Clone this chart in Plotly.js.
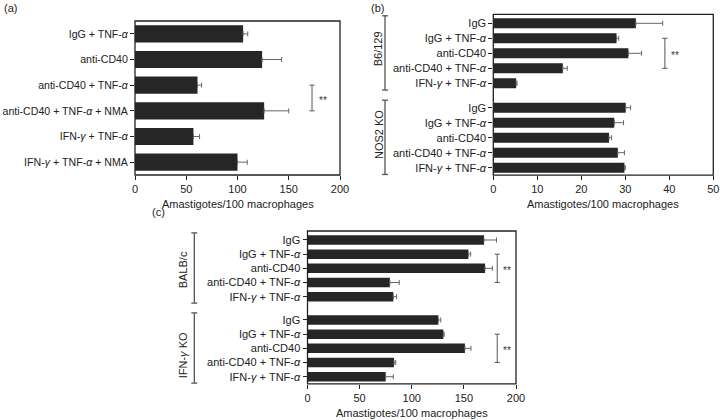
<!DOCTYPE html>
<html><head><meta charset="utf-8">
<script src="https://cdn.plot.ly/plotly-3.0.1.min.js"></script>
<style>html,body{margin:0;padding:0;background:#fff}#chart{width:720px;height:420px}</style>
</head><body><div id="chart"></div><script>
// ---- data ----
const catsA = ['IgG + TNF-<i>α</i>', 'anti-CD40', 'anti-CD40 + TNF-<i>α</i>', 'anti-CD40 + TNF-<i>α</i> + NMA', 'IFN-<i>γ</i> + TNF-<i>α</i>', 'IFN-<i>γ</i> + TNF-<i>α</i> + NMA'];
const valsA = [105.5, 124, 61, 126, 57, 100];
const errA  = [4.5, 19, 4, 24, 6, 9.5];

const catsBC = ['IgG', 'IgG + TNF-<i>α</i>', 'anti-CD40', 'anti-CD40 + TNF-<i>α</i>', 'IFN-<i>γ</i> + TNF-<i>α</i>'];
const valsB1 = [32.4, 28.0, 30.7, 15.8, 5.2];
const errB1  = [6.1, 0.5, 3.0, 1.0, 0.2];
const valsB2 = [30.1, 27.5, 26.3, 28.3, 29.8];
const errB2  = [1.1, 2.1, 0.6, 1.5, 0.2];

const valsC1 = [169.3, 154.3, 170.3, 79, 82.3];
const errC1  = [12, 2.2, 7, 9, 3.2];
const valsC2 = [125.5, 130.3, 151, 83, 75];
const errC2  = [2.3, 0.8, 5.8, 1.6, 7.3];

const groupsB = ['B6/129', 'NOS2 KO'];
const groupsC = ['BALB/c', 'IFN-<i>γ</i> KO'];
const panelLabels = ['(a)', '(b)', '(c)'];
const axisTitle = 'Amastigotes/100 macrophages';

// ---- layout helpers ----
const W = 720, H = 420;
const fx = p => p / W;
const fy = p => 1 - p / H;
const FONT = 'Liberation Sans, Arial, Helvetica, sans-serif';
const TXT = '#222';
const FS = 11;

const dxA = [fx(135), fx(340)], dxB = [fx(493.3), fx(713.3)], dxC = [fx(307.5), fx(516)];
const dyA = [fy(175), fy(21)];
const dyB1 = [fy(90.8), fy(15.8)], dyB2 = [fy(175.2), fy(100.2)];
const dyC1 = [fy(303.8), fy(232.9)], dyC2 = [fy(383.8), fy(312.9)];

function barTrace(cats, vals, errs, xa, ya) {
  return {
    type: 'bar', orientation: 'h', x: vals, y: cats, xaxis: xa, yaxis: ya,
    marker: {color: '#262626', line: {width: 0}},
    error_x: {type: 'data', array: errs, arrayminus: errs.map(() => 0), symmetric: false,
              color: '#666', thickness: 1, width: 2.5},
    hoverinfo: 'none', showlegend: false
  };
}

const data = [
  barTrace(catsA, valsA, errA, 'x', 'y'),
  barTrace(catsBC, valsB1, errB1, 'x2', 'y2'),
  barTrace(catsBC, valsB2, errB2, 'x2', 'y3'),
  barTrace(catsBC, valsC1, errC1, 'x3', 'y4'),
  barTrace(catsBC, valsC2, errC2, 'x3', 'y5')
];

function xax(domain, anchor, range, dtick) {
  return {domain, anchor, range, dtick, tick0: 0, ticks: 'outside', ticklen: 4, tickwidth: 1,
          tickcolor: TXT, showgrid: false, zeroline: false, showline: false,
          tickfont: {family: FONT, size: FS, color: TXT}, fixedrange: true};
}
function yax(domain, anchor, n, size) {
  return {domain, anchor, type: 'category', range: [n - 0.5, -0.5], ticks: 'outside', ticklen: 4,
          tickwidth: 1, tickcolor: TXT, showgrid: false, zeroline: false, showline: false,
          tickfont: {family: FONT, size: size || FS, color: TXT}, fixedrange: true};
}

const shapes = [];
const LC = '#222';
function rect(x0, x1, y0, y1) {
  shapes.push({type: 'rect', xref: 'paper', yref: 'paper', x0, x1, y0, y1, line: {color: LC, width: 1.3}});
}
rect(dxA[0], dxA[1], dyA[0], dyA[1]);
rect(dxB[0], dxB[1], dyB2[0], fy(14.3));
rect(dxC[0], dxC[1], dyC2[0], fy(231));

const SC = '#555';
function sig(xref, yref, x, y0, y1, cap) {
  shapes.push({type: 'line', xref, yref, x0: x, x1: x, y0, y1, line: {color: SC, width: 1}});
  shapes.push({type: 'line', xref, yref, x0: x - cap, x1: x + cap, y0, y1: y0, line: {color: SC, width: 1}});
  shapes.push({type: 'line', xref, yref, x0: x - cap, x1: x + cap, y0: y1, y1: y1, line: {color: SC, width: 1}});
}
sig('x', 'y', 172.7, 2, 3, 2.5);
sig('x2', 'y2', 39, 1, 3, 0.6);
sig('x3', 'y4', 182, 1, 3, 2.4);
sig('x3', 'y5', 182, 1, 3, 2.4);

function groupBracket(xpx, yref) {
  const x = fx(xpx), c = 3 / W;
  shapes.push({type: 'line', xref: 'paper', yref, x0: x, x1: x, y0: 0.01, y1: 1, line: {color: SC, width: 1.3}});
  shapes.push({type: 'line', xref: 'paper', yref, x0: x - c, x1: x + c, y0: 0.01, y1: 0.01, line: {color: SC, width: 1.3}});
  shapes.push({type: 'line', xref: 'paper', yref, x0: x - c, x1: x + c, y0: 1, y1: 1, line: {color: SC, width: 1.3}});
}
groupBracket(385, 'y2 domain');
groupBracket(385, 'y3 domain');
groupBracket(194.3, 'y4 domain');
groupBracket(194.3, 'y5 domain');

const annotations = [];
function stars(xref, yref, x, y) {
  annotations.push({xref, yref, x, y, text: '**', showarrow: false, yshift: -2.5,
                    font: {family: FONT, size: 10, color: '#333'}});
}
stars('x', 'y', 183.5, 2.5);
stars('x2', 'y2', 41.4, 2);
stars('x3', 'y4', 191.7, 2);
stars('x3', 'y5', 191.7, 2);

function txt(text, xpx, ypx, angle, size) {
  annotations.push({xref: 'paper', yref: 'paper', x: fx(xpx), y: fy(ypx), text, showarrow: false,
                    textangle: angle || 0, xanchor: 'center', yanchor: 'middle',
                    font: {family: FONT, size: size || FS, color: TXT}});
}
txt(axisTitle, 237.5, 203.5);
txt(axisTitle, 603.3, 203.5);
txt(axisTitle, 411.7, 413);
txt(panelLabels[0], 10, 8, 0, 11);
txt(panelLabels[1], 377.5, 8, 0, 11);
txt(panelLabels[2], 158, 212, 0, 11);
txt(groupsB[0], 378.3, 49, -90, 11);
txt(groupsB[1], 378.3, 134.7, -90, 11);
txt(groupsC[0], 183.3, 270, -90, 11);
txt(groupsC[1], 183.3, 355, -90, 11);

const layout = {
  width: W, height: H, margin: {l: 0, r: 0, t: 0, b: 0},
  paper_bgcolor: '#fff', plot_bgcolor: '#fff',
  bargap: 0.33, showlegend: false,
  font: {family: FONT, color: TXT, size: FS},
  xaxis: xax(dxA, 'y', [0, 200], 50),
  yaxis: yax(dyA, 'x', catsA.length, 10.6),
  xaxis2: xax(dxB, 'y3', [0, 50], 10),
  yaxis2: yax(dyB1, 'x2', catsBC.length),
  yaxis3: yax(dyB2, 'x2', catsBC.length),
  xaxis3: xax(dxC, 'y5', [0, 200], 50),
  yaxis4: yax(dyC1, 'x3', catsBC.length),
  yaxis5: yax(dyC2, 'x3', catsBC.length),
  shapes, annotations
};

Plotly.newPlot('chart', data, layout, {staticPlot: true, displayModeBar: false});
</script></body></html>
